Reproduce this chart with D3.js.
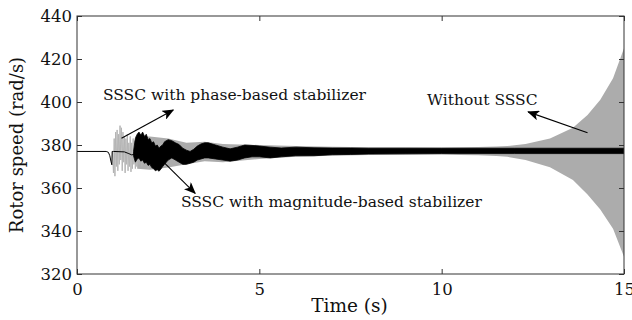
<!DOCTYPE html>
<html>
<head>
<meta charset="utf-8">
<script src="https://cdn.jsdelivr.net/npm/d3@7"></script>
<style>
  body { margin: 0; background: #fff; }
  text { font-family: "DejaVu Serif", serif; fill: #111; }
</style>
</head>
<body>
<div id="chart"></div>
<script>
// ---- data ----
const xTicks = [0, 5, 10, 15];
const yTicks = [320, 340, 360, 380, 400, 420, 440];

// thin black trace before the stabilizer kicks in
const preT = [0, 0.80, 0.86, 0.90, 0.93, 0.955, 0.965, 1.0, 1.30, 1.42, 1.50, 1.56];
const preV = [377, 377, 376.6, 375, 372.5, 370.8, 377, 377, 376.8, 376, 375.4, 375.6];

// light grey burst right after the disturbance
const burstT = [0.97, 1.00, 1.02, 1.04, 1.06, 1.08, 1.10, 1.12, 1.14, 1.16, 1.18, 1.20, 1.22, 1.24,
  1.26, 1.28, 1.30, 1.32, 1.34, 1.36, 1.38, 1.40, 1.42, 1.44, 1.46, 1.48, 1.50, 1.52, 1.54, 1.56,
  1.58, 1.60, 1.62, 1.64, 1.66, 1.70, 1.74, 1.78, 1.82, 1.86, 1.90, 1.95, 2.00, 2.05, 2.10, 2.20,
  2.30, 2.40, 2.50];
const burstV = [377, 367, 383, 365.5, 386, 370, 387, 368, 385, 371, 389, 373, 388, 368,
  386, 372, 384, 367, 383, 371, 385, 368, 381, 370, 384, 367.5, 381, 369, 383, 371,
  382, 369, 384, 370, 383, 371, 385, 370, 383, 372, 384, 369, 383, 370, 382, 368.5,
  381, 370, 382];

// grey "Without SSSC" envelope
const greyT  = [1.65, 2.0, 2.5, 3.0, 3.5, 4.0, 5.0, 6.0, 7.0, 8.0, 9.0, 10.0, 10.5, 11.0, 11.5,
  11.8, 12.3, 12.97, 13.6, 14.0, 14.35, 14.7, 15.0];
const greyHi = [384, 384, 383, 381, 381.5, 380.5, 380, 379.5, 379.2, 379, 378.9, 378.8, 378.9, 379.1, 379.3,
  379.5, 380.5, 383, 388, 394, 401, 411, 425];
const greyLo = [369, 368.5, 369.5, 371, 372.5, 372, 373.5, 374.5, 375, 375.3, 375.5, 375.6, 375.4, 375.2, 374.9,
  374.5, 373, 369.7, 363.7, 357, 350, 341, 328];

// black "magnitude-based stabilizer" band
const blackT  = [1.55, 1.60, 1.65, 1.70, 1.75, 1.80, 1.85, 1.90, 1.95, 2.0, 2.05, 2.1, 2.15, 2.2, 2.25,
  2.3, 2.35, 2.4, 2.5, 2.6, 2.7, 2.8, 2.9, 3.0, 3.1, 3.2, 3.3, 3.4, 3.5, 3.6, 3.8, 4.0, 4.2, 4.4,
  4.6, 4.8, 5.0, 5.3, 5.6, 6.0, 6.5, 7.0, 7.5, 8.0, 9.0, 10.0, 12.0, 15.0];
const blackHi = [377, 383, 385, 386, 384.5, 386, 384, 385, 382.5, 383, 381, 381.5, 379.5, 380, 378.5,
  379.5, 380, 381.5, 382.5, 382, 381, 380.2, 378.5, 377.6, 377, 378, 379.5, 380.5, 381, 381, 380, 379, 378.2, 379,
  380, 379.8, 379.5, 379, 378.6, 379, 378.7, 378.6, 378.6, 378.5, 378.5, 378.5, 378.5, 378.5];
const blackLo = [375, 372, 373.5, 374, 372.5, 373, 371.5, 372, 370.5, 371, 369.5, 369, 368, 368.5, 367.8,
  368.8, 370, 371, 373, 374, 373, 372, 371, 371, 371.5, 372, 373, 373.5, 374, 374, 373.5, 373, 372.5, 373,
  374, 374.5, 374.5, 374, 374.5, 375, 375, 375.5, 375.6, 375.8, 375.9, 376, 376, 376];

// annotations: label text, position, arrow from -> to (data units)
const labels = [
  { text: 'SSSC with phase-based stabilizer', x: 0.71, y: 400.7 },
  { text: 'Without SSSC', x: 9.6, y: 398.8 },
  { text: 'SSSC with magnitude-based stabilizer', x: 2.85, y: 351.2 }
];
const arrows = [
  { x1: 1.22, y1: 383.1, x2: 2.64, y2: 396.3 },
  { x1: 2.32, y1: 373.0, x2: 3.24, y2: 357.5 },
  { x1: 14.0, y1: 385.7, x2: 12.37, y2: 395.4 }
];

// ---- layout ----
const W = 632, H = 320;
const margin = { top: 16, right: 8, bottom: 46, left: 77 };
const width = W - margin.left - margin.right;
const height = H - margin.top - margin.bottom;

const svg = d3.select('#chart').append('svg')
  .attr('width', W).attr('height', H);

svg.append('defs').append('marker')
  .attr('id', 'head')
  .attr('viewBox', '0 0 12 10')
  .attr('refX', 11).attr('refY', 5)
  .attr('markerWidth', 12).attr('markerHeight', 10)
  .attr('markerUnits', 'userSpaceOnUse')
  .attr('orient', 'auto')
  .append('path')
  .attr('d', 'M0,0 L12,5 L0,10 L3,5 Z')
  .attr('fill', '#000');

const g = svg.append('g')
  .attr('transform', 'translate(' + margin.left + ',' + margin.top + ')');

const x = d3.scaleLinear().domain([0, 15]).range([0, width]);
const y = d3.scaleLinear().domain([320, 440]).range([height, 0]);

g.append('clipPath').attr('id', 'clip')
  .append('rect').attr('width', width).attr('height', height);

const plot = g.append('g').attr('clip-path', 'url(#clip)');

// grey envelope (without SSSC)
const greyArea = d3.area()
  .x((d, i) => x(greyT[i]))
  .y0((d, i) => y(greyLo[i]))
  .y1((d, i) => y(greyHi[i]));
plot.append('path')
  .datum(greyT)
  .attr('fill', '#acacac')
  .attr('d', greyArea);

// grey burst
plot.append('path')
  .datum(burstT)
  .attr('fill', 'none')
  .attr('stroke', '#b4b4b4')
  .attr('stroke-width', 1)
  .attr('d', d3.line().x((d, i) => x(burstT[i])).y((d, i) => y(burstV[i])));

// black band
const blackArea = d3.area()
  .x((d, i) => x(blackT[i]))
  .y0((d, i) => y(blackLo[i]))
  .y1((d, i) => y(blackHi[i]));
plot.append('path')
  .datum(blackT)
  .attr('fill', '#000')
  .attr('stroke', '#000')
  .attr('stroke-width', 0.8)
  .attr('d', blackArea);

// thin pre-disturbance trace
plot.append('path')
  .datum(preT)
  .attr('fill', 'none')
  .attr('stroke', '#000')
  .attr('stroke-width', 1)
  .attr('d', d3.line().x((d, i) => x(preT[i])).y((d, i) => y(preV[i])));

// axes with inward ticks
const frameColor = '#333';
const axB = g.append('g').attr('transform', 'translate(0,' + height + ')')
  .call(d3.axisBottom(x).tickValues(xTicks).tickSizeInner(-5).tickSizeOuter(0).tickPadding(9));
const axT = g.append('g')
  .call(d3.axisTop(x).tickValues(xTicks).tickSizeInner(-5).tickSizeOuter(0).tickFormat(''));
const axL = g.append('g')
  .call(d3.axisLeft(y).tickValues(yTicks).tickSizeInner(-5).tickSizeOuter(0).tickPadding(5));
const axR = g.append('g').attr('transform', 'translate(' + width + ',0)')
  .call(d3.axisRight(y).tickValues(yTicks).tickSizeInner(-5).tickSizeOuter(0).tickFormat(''));

[axB, axT, axL, axR].forEach(a => {
  a.select('.domain').remove();
  a.selectAll('line').attr('stroke', frameColor);
  a.selectAll('text')
    .style('font-family', '"DejaVu Serif", serif')
    .style('font-size', '16.5px')
    .attr('fill', '#111');
});

g.append('rect')
  .attr('width', width).attr('height', height)
  .attr('fill', 'none').attr('stroke', frameColor).attr('stroke-width', 1);

// axis titles
g.append('text')
  .attr('x', width / 2 - 1).attr('y', height + 38)
  .attr('text-anchor', 'middle')
  .style('font-size', '18.5px')
  .text('Time (s)');

g.append('text')
  .attr('transform', 'translate(' + (-54) + ',' + (height / 2) + ') rotate(-90)')
  .attr('text-anchor', 'middle')
  .style('font-size', '18px')
  .text('Rotor speed (rad/s)');

// annotations
labels.forEach(l => {
  g.append('text')
    .attr('x', x(l.x)).attr('y', y(l.y))
    .style('font-size', '15.5px')
    .text(l.text);
});
arrows.forEach(a => {
  g.append('line')
    .attr('x1', x(a.x1)).attr('y1', y(a.y1))
    .attr('x2', x(a.x2)).attr('y2', y(a.y2))
    .attr('stroke', '#000').attr('stroke-width', 1.1)
    .attr('marker-end', 'url(#head)');
});
</script>
</body>
</html>
